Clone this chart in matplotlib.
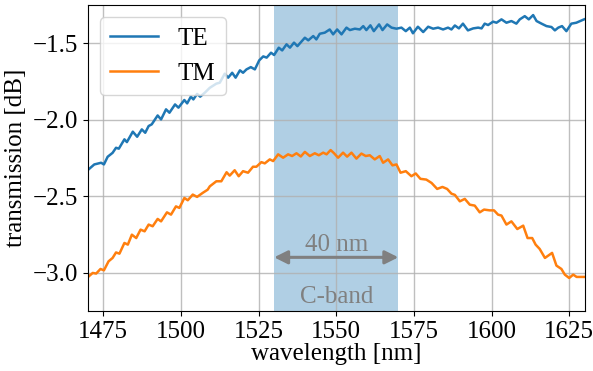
import matplotlib
matplotlib.use('Agg')
import matplotlib.pyplot as plt

# valores (nm, dB)
te_wl = [1470.0, 1472.1, 1474.3, 1475.2, 1476.4, 1478.0, 1479.1, 1480.0, 1481.8, 1482.6,
         1484.5, 1485.9, 1487.4, 1488.5, 1489.6, 1490.6, 1492.5, 1493.6, 1495.2, 1496.3,
         1498.1, 1499.2, 1501.1, 1502.0, 1503.2, 1504.0, 1505.2, 1506.2, 1507.7, 1509.3,
         1511.4, 1512.5, 1514.1, 1515.2, 1516.5, 1517.6, 1519.0, 1520.0, 1521.1, 1522.5,
         1523.8, 1525.2, 1526.5, 1527.6, 1529.0, 1530.0, 1531.5, 1532.6, 1534.0, 1535.1,
         1536.4, 1537.5, 1539.9, 1541.0, 1542.6, 1543.6, 1544.7, 1546.3, 1547.9, 1549.0,
         1550.3, 1551.7, 1553.3, 1554.4, 1556.0, 1557.6, 1558.7, 1559.7, 1561.0, 1562.1,
         1563.8, 1564.9, 1566.4, 1567.8, 1569.4, 1571.0, 1572.4, 1573.7, 1574.7, 1576.3,
         1578.0, 1579.6, 1581.2, 1582.8, 1584.4, 1586.0, 1587.1, 1588.2, 1589.5, 1590.8,
         1592.4, 1594.1, 1595.7, 1596.8, 1597.8, 1598.9, 1600.5, 1601.6, 1603.2, 1604.8,
         1606.4, 1608.0, 1609.1, 1610.7, 1612.0, 1613.4, 1614.5, 1616.1, 1617.7, 1619.3,
         1620.4, 1621.5, 1622.7, 1624.1, 1625.7, 1627.3, 1629.0, 1629.8]
te_db = [-2.330, -2.293, -2.282, -2.293, -2.243, -2.217, -2.184, -2.190, -2.129, -2.147,
         -2.079, -2.112, -2.064, -2.086, -2.042, -2.031, -1.973, -1.999, -1.933, -1.955,
         -1.901, -1.922, -1.872, -1.894, -1.850, -1.868, -1.832, -1.850, -1.824, -1.792,
         -1.765, -1.759, -1.700, -1.726, -1.694, -1.726, -1.678, -1.694, -1.672, -1.657,
         -1.672, -1.613, -1.587, -1.595, -1.563, -1.578, -1.530, -1.548, -1.508, -1.530,
         -1.497, -1.520, -1.465, -1.482, -1.454, -1.476, -1.439, -1.432, -1.411, -1.443,
         -1.411, -1.443, -1.399, -1.415, -1.406, -1.411, -1.389, -1.415, -1.384, -1.422,
         -1.378, -1.415, -1.378, -1.399, -1.406, -1.399, -1.422, -1.399, -1.436, -1.393,
         -1.428, -1.393, -1.406, -1.399, -1.411, -1.399, -1.411, -1.385, -1.404, -1.373,
         -1.417, -1.404, -1.399, -1.404, -1.373, -1.382, -1.360, -1.367, -1.345, -1.367,
         -1.356, -1.373, -1.345, -1.324, -1.345, -1.317, -1.356, -1.373, -1.389, -1.395,
         -1.417, -1.399, -1.389, -1.422, -1.373, -1.367, -1.352, -1.345]

tm_wl = [1470.0, 1471.6, 1472.7, 1474.1, 1475.2, 1476.7, 1478.0, 1479.1, 1480.2, 1481.8,
         1482.9, 1484.2, 1485.6, 1487.0, 1488.3, 1489.6, 1490.9, 1492.5, 1493.6, 1495.5,
         1496.8, 1498.4, 1499.5, 1501.1, 1502.2, 1503.8, 1505.2, 1507.0, 1508.6, 1509.3,
         1511.4, 1513.0, 1514.7, 1515.7, 1517.3, 1518.6, 1520.0, 1521.6, 1523.2, 1524.3,
         1525.9, 1527.0, 1528.6, 1529.7, 1531.3, 1532.9, 1534.5, 1535.8, 1537.2, 1538.6,
         1539.9, 1541.5, 1543.1, 1544.4, 1545.8, 1546.9, 1548.2, 1549.3, 1550.6, 1552.2,
         1553.5, 1554.9, 1556.5, 1558.1, 1559.5, 1560.8, 1562.4, 1564.0, 1565.1, 1566.7,
         1568.1, 1569.4, 1570.7, 1572.4, 1574.2, 1575.6, 1577.1, 1579.0, 1580.7, 1582.5,
         1584.2, 1585.7, 1587.1, 1588.2, 1589.8, 1591.4, 1593.0, 1594.6, 1596.2, 1597.6,
         1599.4, 1600.8, 1602.1, 1603.2, 1604.8, 1606.4, 1608.3, 1610.2, 1611.6, 1613.1,
         1614.2, 1615.5, 1617.2, 1619.5, 1620.9, 1622.5, 1623.6, 1625.0, 1626.3, 1627.4,
         1628.8, 1629.8]
tm_db = [-3.030, -3.002, -3.006, -2.976, -2.985, -2.926, -2.904, -2.868, -2.876, -2.806,
         -2.817, -2.752, -2.774, -2.719, -2.730, -2.686, -2.697, -2.649, -2.665, -2.606,
         -2.621, -2.567, -2.577, -2.512, -2.527, -2.490, -2.505, -2.479, -2.458, -2.436,
         -2.403, -2.403, -2.344, -2.366, -2.331, -2.370, -2.337, -2.347, -2.308, -2.308,
         -2.278, -2.286, -2.260, -2.271, -2.227, -2.249, -2.227, -2.238, -2.220, -2.241,
         -2.211, -2.238, -2.220, -2.233, -2.216, -2.227, -2.199, -2.220, -2.249, -2.216,
         -2.242, -2.216, -2.255, -2.222, -2.238, -2.233, -2.260, -2.238, -2.282, -2.260,
         -2.299, -2.293, -2.347, -2.337, -2.370, -2.352, -2.387, -2.392, -2.414, -2.453,
         -2.440, -2.453, -2.484, -2.492, -2.534, -2.518, -2.556, -2.562, -2.606, -2.588,
         -2.593, -2.593, -2.621, -2.627, -2.686, -2.665, -2.715, -2.693, -2.774, -2.774,
         -2.817, -2.845, -2.904, -2.871, -2.954, -2.976, -3.013, -3.035, -3.013, -3.028,
         -3.028, -3.028]

cband = (1530, 1570)

plt.rcParams['font.family'] = ['Liberation Serif', 'DejaVu Serif']
plt.rcParams['font.size'] = 18
plt.rcParams['mathtext.fontset'] = 'stix'

fig = plt.figure(figsize=(5.93, 3.71), dpi=100)
ax = fig.add_axes([0.148, 0.162, 0.838, 0.825])

ax.axvspan(cband[0], cband[1], color='tab:blue', alpha=0.35, lw=0, zorder=0)
ax.plot(te_wl, te_db, color='tab:blue', lw=1.8, label='TE')
ax.plot(tm_wl, tm_db, color='tab:orange', lw=1.8, label='TM')

ax.annotate('', xy=(cband[0], -2.9), xytext=(cband[1], -2.9),
            arrowprops=dict(arrowstyle='<|-|>', color='gray', lw=2.2, mutation_scale=20,
                            shrinkA=0, shrinkB=0))
ax.text(sum(cband)/2, -2.82, '40 nm', color='gray', ha='center', va='center')
ax.text(sum(cband)/2, -3.16, 'C-band', color='gray', ha='center', va='center')

ax.set_xlim(1470, 1630)
ax.set_ylim(-3.25, -1.25)
ax.set_xticks([1475, 1500, 1525, 1550, 1575, 1600, 1625])
ax.set_yticks([-3.0, -2.5, -2.0, -1.5])
ax.grid(color='#b0b0b0', lw=1, alpha=0.8)
ax.set_axisbelow(True)

ax.set_xlabel('wavelength [nm]', labelpad=0)
ax.set_ylabel('transmission [dB]', labelpad=4)
ax.legend(loc='upper left', handlelength=1.9)

fig.savefig('out.png', dpi=100)
